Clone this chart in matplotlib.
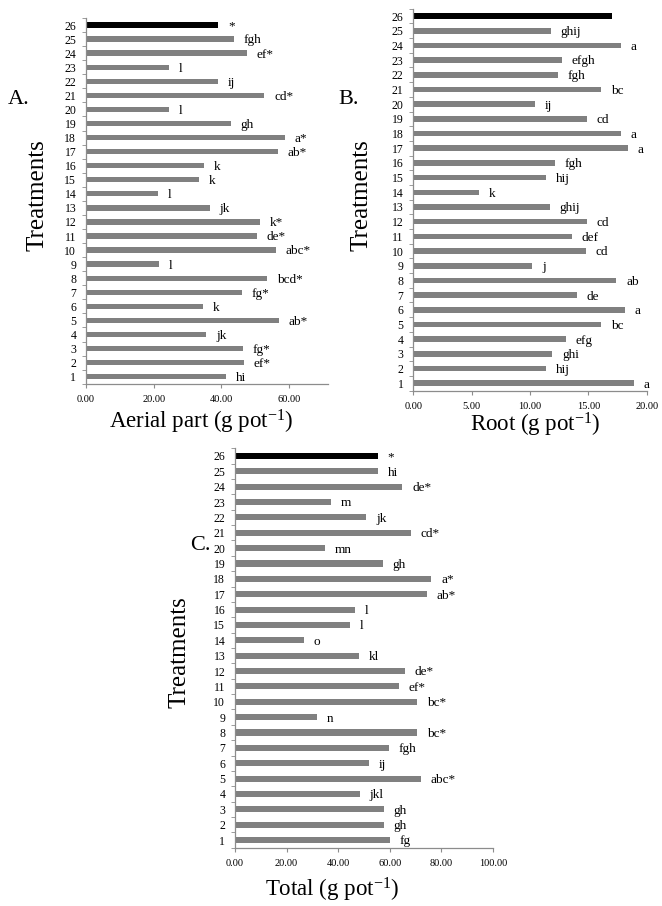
import matplotlib
matplotlib.use('Agg')
import matplotlib.pyplot as plt
import numpy as np

plt.rcParams['font.family'] = ['Liberation Serif', 'DejaVu Serif']
plt.rcParams['mathtext.fontset'] = 'custom'
plt.rcParams['mathtext.rm'] = 'Liberation Serif'
plt.rcParams['mathtext.it'] = 'Liberation Serif:italic'

# treatments 1..26 (26 = control, black bar)
treatments = list(range(1, 27))

aerial = [41.3, 46.7, 46.4, 35.6, 57.1, 34.7, 46.1, 53.6, 21.7, 56.1,
          50.5, 51.4, 36.5, 21.4, 33.3, 35.0, 56.8, 58.7, 42.8, 24.6,
          52.7, 39.1, 24.6, 47.5, 43.8, 39.1]
aerial_lbl = ['hi', 'ef*', 'fg*', 'jk', 'ab*', 'k', 'fg*', 'bcd*', 'l', 'abc*',
              'de*', 'k*', 'jk', 'l', 'k', 'k', 'ab*', 'a*', 'gh', 'l',
              'cd*', 'ij', 'l', 'ef*', 'fgh', '*']

root = [18.9, 11.4, 11.9, 13.1, 16.1, 18.1, 14.0, 17.4, 10.2, 14.8,
        13.6, 14.9, 11.7, 5.6, 11.4, 12.1, 18.4, 17.8, 14.9, 10.4,
        16.1, 12.4, 12.7, 17.8, 11.8, 17.0]
root_lbl = ['a', 'hij', 'ghi', 'efg', 'bc', 'a', 'de', 'ab', 'j', 'cd',
            'def', 'cd', 'ghij', 'k', 'hij', 'fgh', 'a', 'a', 'cd', 'ij',
            'bc', 'fgh', 'efgh', 'a', 'ghij', '']

total = [60.0, 57.8, 57.8, 48.4, 72.2, 52.0, 59.6, 70.5, 31.8, 70.5,
         63.6, 65.8, 48.0, 26.8, 44.6, 46.7, 74.4, 76.1, 57.4, 34.8,
         68.1, 50.9, 37.1, 64.9, 55.4, 55.4]
total_lbl = ['fg', 'gh', 'gh', 'jkl', 'abc*', 'ij', 'fgh', 'bc*', 'n', 'bc*',
             'ef*', 'de*', 'kl', 'o', 'l', 'l', 'ab*', 'a*', 'gh', 'mn',
             'cd*', 'jk', 'm', 'de*', 'hi', '*']

W, H = 662, 906
fig = plt.figure(figsize=(W / 100, H / 100), dpi=100)

GRAY = '#808080'
AXC = '#8c8c8c'


def px_axes(left, right, top, bottom):
    return fig.add_axes([left / W, 1 - bottom / H, (right - left) / W, (bottom - top) / H])


def draw_panel(ax, vals, lbls, xmax, xticks, height):
    colors = [GRAY] * 25 + ['black']
    ax.barh(treatments, vals, height=height, color=colors)
    for t, v, s in zip(treatments, vals, lbls):
        ax.annotate(s, (v, t), xytext=(7, -1), textcoords='offset points',
                    va='center', ha='left', fontsize=9.5)
    ax.set_xlim(0, xmax)
    ax.set_ylim(0.5, 26.5)
    ax.set_yticks(treatments)
    ax.set_yticklabels([str(t) for t in treatments])
    ax.set_yticks(np.arange(0.5, 27, 1), minor=True)
    ax.tick_params(axis='y', which='major', length=0, pad=7, labelsize=8.5)
    ax.tick_params(axis='y', which='minor', length=3, color=AXC, direction='out')
    ax.set_xticks(xticks)
    ax.set_xticklabels(['%.2f' % x for x in xticks])
    ax.tick_params(axis='x', length=3, color=AXC, labelsize=7.5, pad=5)
    for s in ['top', 'right']:
        ax.spines[s].set_visible(False)
    for s in ['left', 'bottom']:
        ax.spines[s].set_color(AXC)
        ax.spines[s].set_linewidth(0.9)


axA = px_axes(86, 328, 18, 383.7)
draw_panel(axA, aerial, aerial_lbl, 71.5, [0, 20, 40, 60], 0.38)

axB = px_axes(413.3, 646.7, 8.7, 390.6)
draw_panel(axB, root, root_lbl, 20, [0, 5, 10, 15, 20], 0.38)

axC = px_axes(235, 493, 448.3, 847.7)
draw_panel(axC, total, total_lbl, 100, [0, 20, 40, 60, 80, 100], 0.4)

# axis titles and panel letters
fig.text(201 / W, 1 - 422 / H, r'Aerial part (g pot$^{-1}$)', ha='center', va='center', fontsize=16.5)
fig.text(535 / W, 1 - 425 / H, r'Root (g pot$^{-1}$)', ha='center', va='center', fontsize=16.5)
fig.text(332 / W, 1 - 890 / H, r'Total (g pot$^{-1}$)', ha='center', va='center', fontsize=16.5)

fig.text(37 / W, 1 - 195 / H, 'Treatments', rotation=90, ha='center', va='center', fontsize=18)
fig.text(362 / W, 1 - 195 / H, 'Treatments', rotation=90, ha='center', va='center', fontsize=18)
fig.text(180 / W, 1 - 652 / H, 'Treatments', rotation=90, ha='center', va='center', fontsize=18)

fig.text(8 / W, 1 - 100 / H, 'A.', ha='left', va='center', fontsize=16)
fig.text(338 / W, 1 - 100 / H, 'B.', ha='left', va='center', fontsize=16)
fig.text(190 / W, 1 - 545 / H, 'C.', ha='left', va='center', fontsize=16)

fig.savefig('out.png', dpi=100)
